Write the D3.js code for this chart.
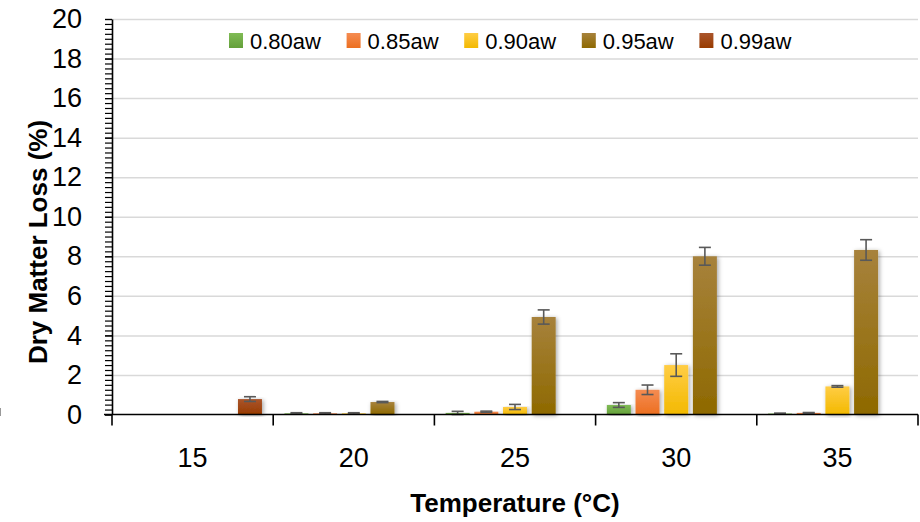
<!DOCTYPE html>
<html>
<head>
<meta charset="utf-8">
<script src="https://cdn.jsdelivr.net/npm/d3@7"></script>
<style>
  body { margin: 0; background: #fff; }
  svg { display: block; font-family: "Liberation Sans", Arial, sans-serif; }
</style>
</head>
<body>
<svg id="chart" width="920" height="522"></svg>
<script>

// Categories and series.
var temps = ['15', '20', '25', '30', '35'];
var series = ['0.80aw', '0.85aw', '0.90aw', '0.95aw', '0.99aw'];

// Dry matter loss (%) per series, by temperature (null = no bar).
var aw80 = [null, 0.06, 0.08, 0.48, 0.05];
var aw85 = [null, 0.06, 0.14, 1.25, 0.08];
var aw90 = [null, 0.06, 0.38, 2.50, 1.42];
var aw95 = [null, 0.63, 4.93, 8.00, 8.32];
var aw99 = [0.78, null, null, null, null];

// Error bar half-lengths.
var err80 = [null, 0.03, 0.08, 0.12, 0.02];
var err85 = [null, 0.03, 0.03, 0.24, 0.02];
var err90 = [null, 0.03, 0.13, 0.57, 0.04];
var err95 = [null, 0.03, 0.36, 0.45, 0.52];
var err99 = [0.12, null, null, null, null];

var yTicks = [0, 2, 4, 6, 8, 10, 12, 14, 16, 18, 20];

var values = [aw80, aw85, aw90, aw95, aw99];
var errors = [err80, err85, err90, err95, err99];

// Colour gradients (top, bottom).
var colors = [
  ['#80bb55', '#64a03a'],
  ['#f58c52', '#ec6f20'],
  ['#ffcd45', '#f3b900'],
  ['#a7823c', '#8e6900'],
  ['#aa552c', '#983b00']
];

var svg = d3.select('#chart');
var plotLeft = 112, plotRight = 918, plotTop = 19, plotBottom = 414.5;

var x0 = d3.scaleBand().domain(temps).range([plotLeft, plotRight]);
var x1 = d3.scaleBand().domain(series).range([0, x0.bandwidth()])
  .paddingInner(0.164).paddingOuter(0.392);
var y = d3.scaleLinear().domain([0, 20]).range([plotBottom, plotTop]);

var defs = svg.append('defs');

colors.forEach(function(c, i) {
  var g = defs.append('linearGradient').attr('id', 'grad' + i)
    .attr('x1', 0).attr('y1', 0).attr('x2', 0).attr('y2', 1);
  g.append('stop').attr('offset', '0%').attr('stop-color', c[0]);
  g.append('stop').attr('offset', '100%').attr('stop-color', c[1]);
});

var shadow = defs.append('filter').attr('id', 'shadow')
  .attr('x', '-50%').attr('y', '-10%').attr('width', '200%').attr('height', '120%');
shadow.append('feDropShadow')
  .attr('dx', 1.5).attr('dy', 1).attr('stdDeviation', 2)
  .attr('flood-color', '#000').attr('flood-opacity', 0.35);

// Gridlines.
svg.append('g')
  .attr('transform', 'translate(' + plotLeft + ',0)')
  .call(d3.axisLeft(y).tickValues(yTicks.slice(1))
    .tickSize(-(plotRight - plotLeft)).tickFormat(''))
  .call(function(g) {
    g.select('.domain').remove();
    g.selectAll('line').attr('stroke', '#d9d9d9').attr('stroke-width', 1.5);
  });

// Bars.
var groups = svg.append('g').selectAll('g')
  .data(series)
  .join('g');

function rowsFor(i) {
  return temps.map(function(t, j) {
    return { t: t, v: values[i][j], e: errors[i][j] };
  }).filter(function(d) { return d.v !== null; });
}

groups.each(function(s, i) {
  d3.select(this).selectAll('rect')
    .data(rowsFor(i))
    .join('rect')
    .attr('x', function(d) { return x0(d.t) + x1(s); })
    .attr('y', function(d) { return y(d.v); })
    .attr('width', x1.bandwidth())
    .attr('height', function(d) { return y(0) - y(d.v); })
    .attr('fill', 'url(#grad' + i + ')')
    .attr('filter', 'url(#shadow)');
});

// Error bars.
groups.each(function(s, i) {
  var g = d3.select(this).append('g')
    .attr('stroke', '#595959').attr('stroke-width', 1.6);

  rowsFor(i).forEach(function(d) {
    var cx = x0(d.t) + x1(s) + x1.bandwidth() / 2;
    var hi = y(d.v + d.e), lo = y(Math.max(0, d.v - d.e));
    g.append('line').attr('x1', cx).attr('x2', cx).attr('y1', hi).attr('y2', lo);
    g.append('line').attr('x1', cx - 6).attr('x2', cx + 6).attr('y1', hi).attr('y2', hi);
    g.append('line').attr('x1', cx - 6).attr('x2', cx + 6).attr('y1', lo).attr('y2', lo);
  });
});

// Y axis: minor ticks, then major with labels.
svg.append('g')
  .attr('transform', 'translate(' + plotLeft + ',0)')
  .call(d3.axisLeft(y).tickValues(d3.range(0, 20.01, 0.25)).tickSize(7).tickFormat(''))
  .call(function(g) {
    g.select('.domain').remove();
    g.selectAll('line').attr('stroke', '#000').attr('stroke-width', 1.2);
  });

svg.append('g')
  .attr('transform', 'translate(' + plotLeft + ',0)')
  .call(d3.axisLeft(y).tickValues(yTicks).tickSize(7).tickSizeOuter(0).tickPadding(23))
  .call(function(g) {
    g.select('.domain').attr('stroke', '#000').attr('stroke-width', 1.6);
    g.selectAll('line').attr('stroke', '#000').attr('stroke-width', 1.2);
    g.selectAll('text').attr('font-size', 27).attr('fill', '#000')
      .attr('font-family', '"Liberation Sans", Arial, sans-serif');
  });

// X axis.
var xAxis = svg.append('g').attr('transform', 'translate(0,' + plotBottom + ')');
xAxis.append('line')
  .attr('x1', plotLeft - 8).attr('x2', plotRight)
  .attr('stroke', '#000').attr('stroke-width', 1.6);

var bounds = temps.map(function(t) { return x0(t); }).concat([plotRight]);
xAxis.selectAll('.bound')
  .data(bounds)
  .join('line')
  .attr('class', 'bound')
  .attr('x1', function(d) { return d; }).attr('x2', function(d) { return d; })
  .attr('y1', 0).attr('y2', 11)
  .attr('stroke', '#000').attr('stroke-width', 1.6);

xAxis.selectAll('.lbl')
  .data(temps)
  .join('text')
  .attr('class', 'lbl')
  .attr('x', function(d) { return x0(d) + x0.bandwidth() / 2; })
  .attr('y', 52)
  .attr('text-anchor', 'middle')
  .attr('font-size', 27)
  .text(function(d) { return d; });

// Axis titles.
svg.append('text')
  .attr('x', (plotLeft + plotRight) / 2).attr('y', 512)
  .attr('text-anchor', 'middle')
  .attr('font-size', 26).attr('font-weight', 'bold')
  .text('Temperature (°C)');

svg.append('text')
  .attr('transform', 'translate(47,242) rotate(-90)')
  .attr('text-anchor', 'middle')
  .attr('font-size', 26).attr('font-weight', 'bold')
  .text('Dry Matter Loss (%)');

// Stray edge mark at the far left.
svg.append('line')
  .attr('x1', 0.5).attr('x2', 0.5).attr('y1', 408).attr('y2', 416)
  .attr('stroke', '#999').attr('stroke-width', 1);

// Legend.
var legend = svg.append('g').selectAll('g')
  .data(series)
  .join('g')
  .attr('transform', function(d, i) {
    return 'translate(' + (229 + i * 117.6) + ',0)';
  });

legend.append('rect')
  .attr('x', 0).attr('y', 33).attr('width', 14).attr('height', 15)
  .attr('fill', function(d, i) { return 'url(#grad' + i + ')'; });

legend.append('text')
  .attr('x', 21).attr('y', 49)
  .attr('font-size', 22)
  .text(function(d) { return d; });

</script>
</body>
</html>
